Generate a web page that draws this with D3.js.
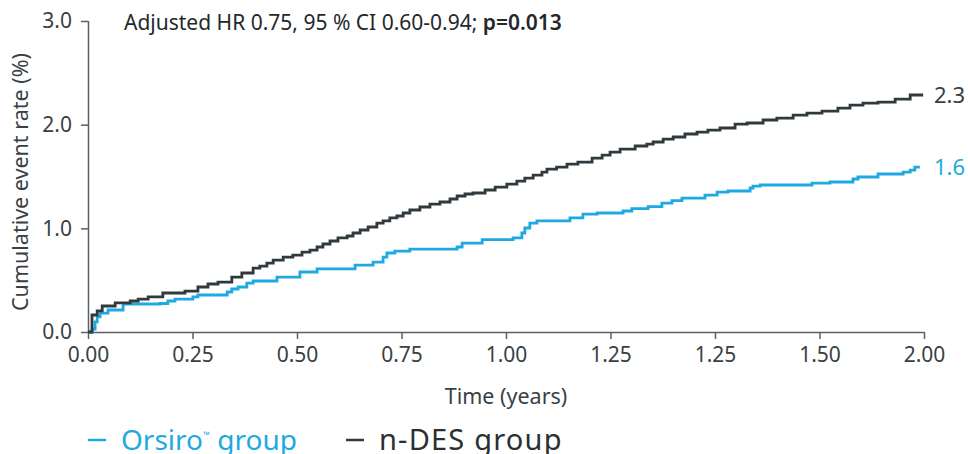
<!DOCTYPE html>
<html>
<head>
<meta charset="utf-8">
<script src="https://cdn.jsdelivr.net/npm/d3@7"></script>
<style>
  body { margin: 0; background: #fff; }
  svg { display: block; font-family: 'Noto Sans', 'Open Sans', sans-serif; }
</style>
</head>
<body>
<svg id="chart" width="968" height="454"></svg>
<script>
// time (years) / cumulative event rate (%)
var orsiro = [
  [0, 0], [0.010, 0.029], [0.017, 0.097], [0.022, 0.145], [0.029, 0.183], [0.048, 0.212],
  [0.084, 0.270], [0.172, 0.275], [0.191, 0.299], [0.208, 0.318], [0.251, 0.338], [0.263, 0.357],
  [0.333, 0.386], [0.344, 0.415], [0.359, 0.434], [0.380, 0.472], [0.395, 0.492], [0.452, 0.530],
  [0.507, 0.579], [0.548, 0.608], [0.639, 0.646], [0.682, 0.675], [0.706, 0.723], [0.715, 0.762],
  [0.734, 0.781], [0.770, 0.800], [0.883, 0.820], [0.895, 0.858], [0.943, 0.892], [1.017, 0.907],
  [1.038, 0.955], [1.045, 1.003], [1.057, 1.051], [1.074, 1.071], [1.153, 1.100], [1.184, 1.138],
  [1.218, 1.148], [1.280, 1.167], [1.301, 1.191], [1.340, 1.210], [1.373, 1.244], [1.397, 1.268],
  [1.421, 1.292], [1.476, 1.321], [1.505, 1.350], [1.531, 1.360], [1.584, 1.389], [1.591, 1.408],
  [1.608, 1.418], [1.732, 1.437], [1.775, 1.447], [1.830, 1.476], [1.842, 1.495], [1.890, 1.524],
  [1.950, 1.543], [1.967, 1.562], [1.978, 1.591], [1.990, 1.591]
];
var ndes = [
  [0, 0], [0.0096, 0.164], [0.022, 0.203], [0.034, 0.251], [0.065, 0.280], [0.101, 0.299],
  [0.120, 0.318], [0.144, 0.338], [0.179, 0.376], [0.232, 0.395], [0.263, 0.434], [0.287, 0.463],
  [0.311, 0.482], [0.344, 0.530], [0.368, 0.569], [0.395, 0.617], [0.411, 0.636], [0.428, 0.665],
  [0.443, 0.694], [0.467, 0.723], [0.490, 0.742], [0.512, 0.771], [0.531, 0.790], [0.548, 0.820],
  [0.562, 0.849], [0.579, 0.878], [0.598, 0.907], [0.620, 0.926], [0.634, 0.955], [0.651, 0.984],
  [0.670, 1.013], [0.691, 1.051], [0.706, 1.071], [0.722, 1.100], [0.739, 1.119], [0.754, 1.148],
  [0.770, 1.177], [0.794, 1.206], [0.818, 1.234], [0.842, 1.254], [0.866, 1.283], [0.883, 1.312],
  [0.902, 1.331], [0.921, 1.341], [0.950, 1.370], [0.974, 1.398], [1.002, 1.427], [1.026, 1.456],
  [1.045, 1.485], [1.065, 1.514], [1.086, 1.543], [1.098, 1.572], [1.121, 1.591], [1.146, 1.620],
  [1.172, 1.639], [1.206, 1.678], [1.230, 1.707], [1.249, 1.736], [1.273, 1.765], [1.309, 1.794],
  [1.337, 1.813], [1.352, 1.833], [1.376, 1.861], [1.400, 1.881], [1.428, 1.910], [1.457, 1.929],
  [1.483, 1.948], [1.512, 1.968], [1.548, 2.006], [1.577, 2.016], [1.615, 2.045], [1.648, 2.064],
  [1.687, 2.093], [1.720, 2.112], [1.756, 2.131], [1.794, 2.160], [1.823, 2.189], [1.854, 2.208],
  [1.890, 2.218], [1.931, 2.247], [1.967, 2.286], [1.998, 2.286]
];
var xTicks = [0, 0.25, 0.5, 0.75, 1, 1.25, 1.5, 1.75, 2];
var xTickLabels = ['0.00', '0.25', '0.50', '0.75', '1.00', '1.25', '1.25', '1.50', '2.00'];
var yTicks = [0, 1, 2, 3];
var endLabels = ['1.6', '2.3'];

var blue = '#1ea9e1', dark = '#30393d', axisCol = '#5b6064', textCol = '#3a3f43';

var svg = d3.select('#chart');
var x = d3.scaleLinear().domain([0, 2]).range([88, 924]);
var y = d3.scaleLinear().domain([0, 3]).range([332, 21]);

var xAxis = svg.append('g').attr('transform', 'translate(0,332)')
  .call(d3.axisBottom(x).tickValues(xTicks).tickSize(7).tickPadding(8)
    .tickFormat(function(d, i) { return xTickLabels[i]; }));
var yAxis = svg.append('g').attr('transform', 'translate(88,0)')
  .call(d3.axisLeft(y).tickValues(yTicks).tickSize(7).tickPadding(9).tickFormat(d3.format('.1f')));

[xAxis, yAxis].forEach(function(a) {
  a.select('.domain').attr('stroke', axisCol).attr('stroke-width', 1.5).attr('d',
    a === xAxis ? 'M88,0.5H924' : 'M0.5,332V21');
  a.selectAll('.tick line').attr('stroke', axisCol).attr('stroke-width', 1.5);
  a.selectAll('.tick text').attr('fill', textCol).style('font-size', '21px')
    .style('font-family', "'Noto Sans', sans-serif");
});

var line = d3.line().curve(d3.curveStepAfter)
  .x(function(d) { return x(d[0]); })
  .y(function(d) { return y(d[1]); });

svg.append('path').datum(orsiro).attr('d', line)
  .attr('fill', 'none').attr('stroke', blue).attr('stroke-width', 2.8);
svg.append('path').datum(ndes).attr('d', line)
  .attr('fill', 'none').attr('stroke', dark).attr('stroke-width', 2.8);

var lastO = orsiro[orsiro.length - 1], lastN = ndes[ndes.length - 1];
svg.append('text').attr('x', 934).attr('y', y(lastO[1])).attr('dy', '0.36em')
  .attr('fill', blue).style('font-size', '22px').text(endLabels[0]);
svg.append('text').attr('x', 934).attr('y', y(lastN[1])).attr('dy', '0.36em')
  .attr('fill', textCol).style('font-size', '22px').text(endLabels[1]);

// annotation
var ann = svg.append('text').attr('x', 124).attr('y', 30).attr('fill', '#23282b')
  .style('font-size', '21px');
ann.append('tspan').text('Adjusted HR 0.75, 95 % CI 0.60-0.94; ');
ann.append('tspan').style('font-weight', 600).text('p=0.013');

// axis titles
svg.append('text').attr('x', x(1)).attr('y', 404).attr('text-anchor', 'middle')
  .attr('fill', textCol).style('font-size', '21.5px').text('Time (years)');
svg.append('text').attr('transform', 'translate(28,182) rotate(-90)')
  .attr('text-anchor', 'middle').attr('fill', textCol).style('font-size', '21.5px')
  .text('Cumulative event rate (%)');

// legend
var lg = svg.append('g');
lg.append('line').attr('x1', 88).attr('x2', 106).attr('y1', 440).attr('y2', 440)
  .attr('stroke', blue).attr('stroke-width', 2.5);
var t1 = lg.append('text').attr('x', 121).attr('y', 450).attr('fill', blue).style('font-size', '28px');
t1.append('tspan').text('Orsiro');
t1.append('tspan').attr('dy', -12).style('font-size', '9px').text('™');
t1.append('tspan').attr('dy', 12).text(' group');
lg.append('line').attr('x1', 346).attr('x2', 364).attr('y1', 440).attr('y2', 440)
  .attr('stroke', dark).attr('stroke-width', 2.5);
lg.append('text').attr('x', 379).attr('y', 450).attr('fill', '#2a3034').style('font-size', '29px')
  .style('letter-spacing', '1.2px').text('n-DES group');
</script>
</body>
</html>
